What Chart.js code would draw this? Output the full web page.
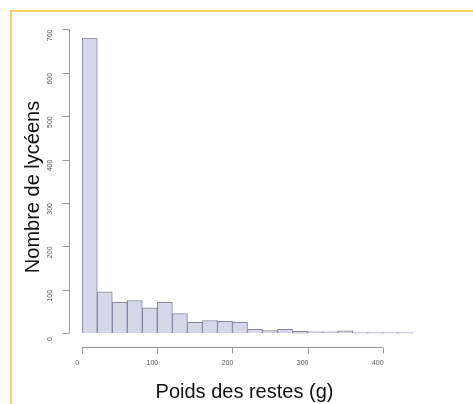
<!DOCTYPE html>
<html>
<head>
<meta charset="utf-8">
<script src="https://cdn.jsdelivr.net/npm/chart.js@4/dist/chart.umd.min.js"></script>
<style>
    html, body { margin: 0; padding: 0; background: #fff; overflow: hidden; }
    #wrap { position: relative; width: 473px; height: 404px; }
    #frame {
        position: absolute; left: 10px; top: 10px; width: 463px; height: 394px;
        border-top: 2px solid #fccb6a; border-left: 2px solid #fccb6a;
        box-sizing: border-box; pointer-events: none;
    }
</style>
</head>
<body>
<div id="wrap">
    <canvas id="hist" width="473" height="404"></canvas>
    <div id="frame"></div>
</div>
<script>
// histogram bins (20 g wide), starting at 0
const binStarts = [0, 20, 40, 60, 80, 100, 120, 140, 160, 180, 200, 220, 240, 260, 280, 300, 320, 340, 360, 380, 400, 420];
const counts = [680, 95, 71, 75, 58, 71, 45, 25, 29, 27, 25, 9, 6, 9, 4, 3, 3, 5, 1, 1, 1, 1];
const binWidth = 20;
const xTicks = [0, 100, 200, 300, 400];
const yTicks = [0, 100, 200, 300, 400, 500, 600, 700];
const xTitle = 'Poids des restes (g)';
const yTitle = 'Nombre de lycéens';

const fill = '#d7d7eb';
const edge = '#8585a6';
const axisColor = '#9a9a9a';
const tickText = '#555';

const rAxes = {
    id: 'rAxes',
    afterDraw(chart) {
        const { ctx, chartArea, scales } = chart;
        const x = scales.x;
        const y = scales.y;
        ctx.save();
        ctx.strokeStyle = axisColor;
        ctx.lineWidth = 1;
        ctx.fillStyle = tickText;
        ctx.font = '7px "Liberation Sans", Arial, sans-serif';

        // x axis
        const xb = Math.round(chartArea.bottom) + 0.5;
        ctx.beginPath();
        ctx.moveTo(x.getPixelForValue(xTicks[0]), xb);
        ctx.lineTo(x.getPixelForValue(xTicks[xTicks.length - 1]), xb);
        xTicks.forEach(v => {
            const px = Math.round(x.getPixelForValue(v)) + 0.5;
            ctx.moveTo(px, xb);
            ctx.lineTo(px, xb + 6);
        });
        ctx.stroke();
        ctx.textAlign = 'center';
        ctx.textBaseline = 'middle';
        xTicks.forEach(v => {
            ctx.fillText(String(v), x.getPixelForValue(v) - 5, xb + 16);
        });

        // y axis
        const yl = Math.round(chartArea.left) + 0.5;
        ctx.beginPath();
        ctx.moveTo(yl, y.getPixelForValue(yTicks[0]));
        ctx.lineTo(yl, y.getPixelForValue(yTicks[yTicks.length - 1]));
        yTicks.forEach(v => {
            const py = Math.round(y.getPixelForValue(v)) + 0.5;
            ctx.moveTo(yl, py);
            ctx.lineTo(yl - 7, py);
        });
        ctx.stroke();
        yTicks.forEach(v => {
            ctx.save();
            ctx.translate(yl - 19, y.getPixelForValue(v) + 6);
            ctx.rotate(-Math.PI / 2);
            ctx.fillText(String(v), 0, 0);
            ctx.restore();
        });

        // axis titles
        ctx.fillStyle = '#111';
        ctx.font = '20px "Liberation Sans", Arial, sans-serif';
        ctx.fillText(xTitle, (x.getPixelForValue(-17.6) + x.getPixelForValue(457.6)) / 2 - 3, 392);
        ctx.save();
        ctx.translate(33, 187);
        ctx.rotate(-Math.PI / 2);
        ctx.fillText(yTitle, 0, 0);
        ctx.restore();
        ctx.restore();
    }
};

new Chart(document.getElementById('hist'), {
    type: 'bar',
    data: {
        datasets: [{
            data: binStarts.map((b, i) => ({ x: b + binWidth / 2, y: counts[i] })),
            backgroundColor: fill,
            borderColor: edge,
            borderWidth: 1,
            barPercentage: 1,
            categoryPercentage: 1,
        }],
    },
    options: {
        responsive: false,
        animation: false,
        events: [],
        layout: { padding: { left: 69, right: 47, top: 25, bottom: 57 } },
        plugins: { legend: { display: false }, tooltip: { enabled: false } },
        scales: {
            x: { type: 'linear', min: -17.6, max: 457.6, offset: false, display: false },
            y: { min: -32, max: 710, display: false },
        },
    },
    plugins: [rAxes],
});
</script>
</body>
</html>
